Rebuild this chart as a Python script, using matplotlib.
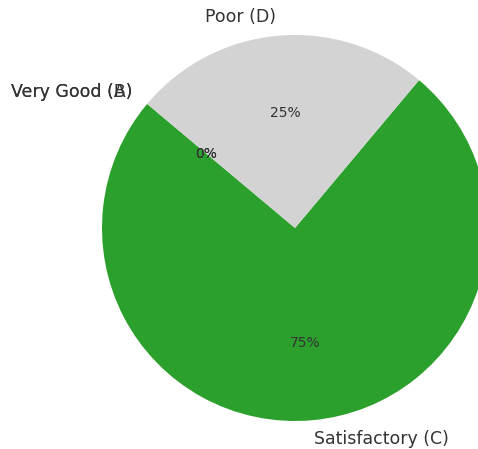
import matplotlib.pyplot as plt

# grade distribution
grades = ["Very Good (A)", "Very Good (B)", "Satisfactory (C)", "Poor (D)"]
shares = [0, 0, 75, 25]
grade_colors = ["#1f77b4", "#ff7f0e", "#2ca02c", "#d3d3d3"]

W, H, DPI = 478, 449, 100
fig = plt.figure(figsize=(W / DPI, H / DPI), dpi=DPI)

# pie centre and radius in pixels, axes sized so the pie lands there
cx, cy, r = 295, 449 - 228, 193
half = 1.25 * r
ax = fig.add_axes([(cx - half) / W, (cy - half) / H, 2 * half / W, 2 * half / H])

wedges, texts, autotexts = ax.pie(
    shares,
    labels=grades,
    colors=grade_colors,
    autopct="%1.0f%%",
    startangle=140,
)

for t in texts:
    t.set_fontsize(12.5)
    t.set_color("#333333")
for t in autotexts:
    t.set_fontsize(10)
    t.set_color("#333333")

ax.set_xlim(-1.25, 1.25)
ax.set_ylim(-1.25, 1.25)

fig.savefig("out.png", dpi=DPI)
